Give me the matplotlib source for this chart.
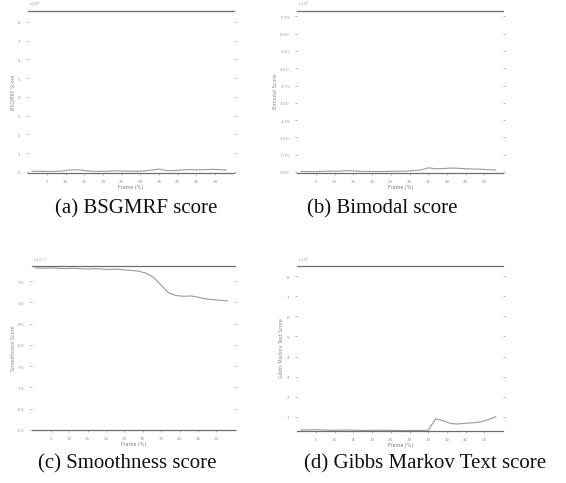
import matplotlib.pyplot as plt

# frame positions shared by all four score curves
frames = [1, 3, 5, 7, 9, 11, 13, 15, 17, 19, 21, 23, 25, 27, 29,
          31, 33, 35, 37, 39, 41, 43, 45, 47, 49, 51, 53]

bsgmrf = [300, 250, 200, 250, 400, 900, 1100, 700, 300, 250, 300, 500,
          400, 350, 300, 450, 900, 1500, 600, 700, 900, 1200, 1000, 1100,
          1300, 1200, 900]
bimodal = [200, 180, 150, 300, 400, 350, 600, 500, 300, 250, 200, 250,
           300, 350, 400, 600, 900, 1800, 1400, 1500, 1700, 1600, 1400,
           1300, 1200, 1000, 900]
smoothness = [0.981, 0.980, 0.981, 0.980, 0.979, 0.980, 0.979, 0.978,
              0.979, 0.978, 0.977, 0.978, 0.976, 0.975, 0.973, 0.968,
              0.958, 0.940, 0.922, 0.916, 0.914, 0.915, 0.912, 0.908,
              0.906, 0.905, 0.903]
gibbs = [34, 35, 36, 34, 33, 33, 34, 33, 32, 32, 33, 33, 32, 32, 31,
         32, 32, 33, 90, 80, 66, 64, 68, 70, 74, 86, 100]

panels = [
    (bsgmrf, "BSGMRF Score", "(a) BSGMRF score", (-600, 86000), 10000),
    (bimodal, "Bimodal Score", "(b) Bimodal score", (-400, 70000), 7500),
    (smoothness, "Smoothness Score", "(c) Smoothness score", (0.6, 0.985), 0.05),
    (gibbs, "Gibbs Markov Text Score", "(d) Gibbs Markov Text score", (30, 850), 100),
]

boxes = [
    [0.050, 0.642, 0.363, 0.336],
    [0.525, 0.642, 0.364, 0.336],
    [0.057, 0.110, 0.358, 0.339],
    [0.525, 0.108, 0.364, 0.341],
]
caption_pos = [(0.241, 0.567), (0.675, 0.567), (0.225, 0.039), (0.751, 0.039)]

fig = plt.figure(figsize=(5.66, 4.83), dpi=100)

for (vals, ylab, cap, ylim, step), box, (cx, cy) in zip(panels, boxes, caption_pos):
    ax = fig.add_axes(box)
    ax.plot(frames, vals, color="#9a9a9a", linewidth=0.8)
    ax.set_xlim(0, 55)
    ax.set_ylim(*ylim)
    ax.set_xticks([5, 10, 15, 20, 25, 30, 35, 40, 45, 50])
    lo = ylim[0] - ylim[0] % step + step
    ticks = []
    t = lo
    while t < ylim[1]:
        ticks.append(t)
        t += step
    ax.set_yticks(ticks)
    ax.ticklabel_format(axis="y", style="sci", scilimits=(0, 0), useMathText=True)
    ax.yaxis.get_offset_text().set_fontsize(3)
    ax.yaxis.get_offset_text().set_color("#888888")
    for side in ["left", "right"]:
        ax.spines[side].set_visible(False)
    for side in ["top", "bottom"]:
        ax.spines[side].set_color("#6e6e6e")
        ax.spines[side].set_linewidth(0.9)
    ax.tick_params(axis="both", labelsize=3, colors="#9a9a9a", length=1.5,
                   width=0.5, right=True)
    ax.set_xlabel("Frame (%)", fontsize=3.5, color="#7a7a7a", labelpad=1)
    ax.set_ylabel(ylab, fontsize=3.5, color="#8a8a8a", labelpad=1)
    fig.text(cx, cy, cap, ha="center", va="center", fontsize=15,
             family="Liberation Serif", color="#111111")

plt.savefig("out.png", dpi=100)
